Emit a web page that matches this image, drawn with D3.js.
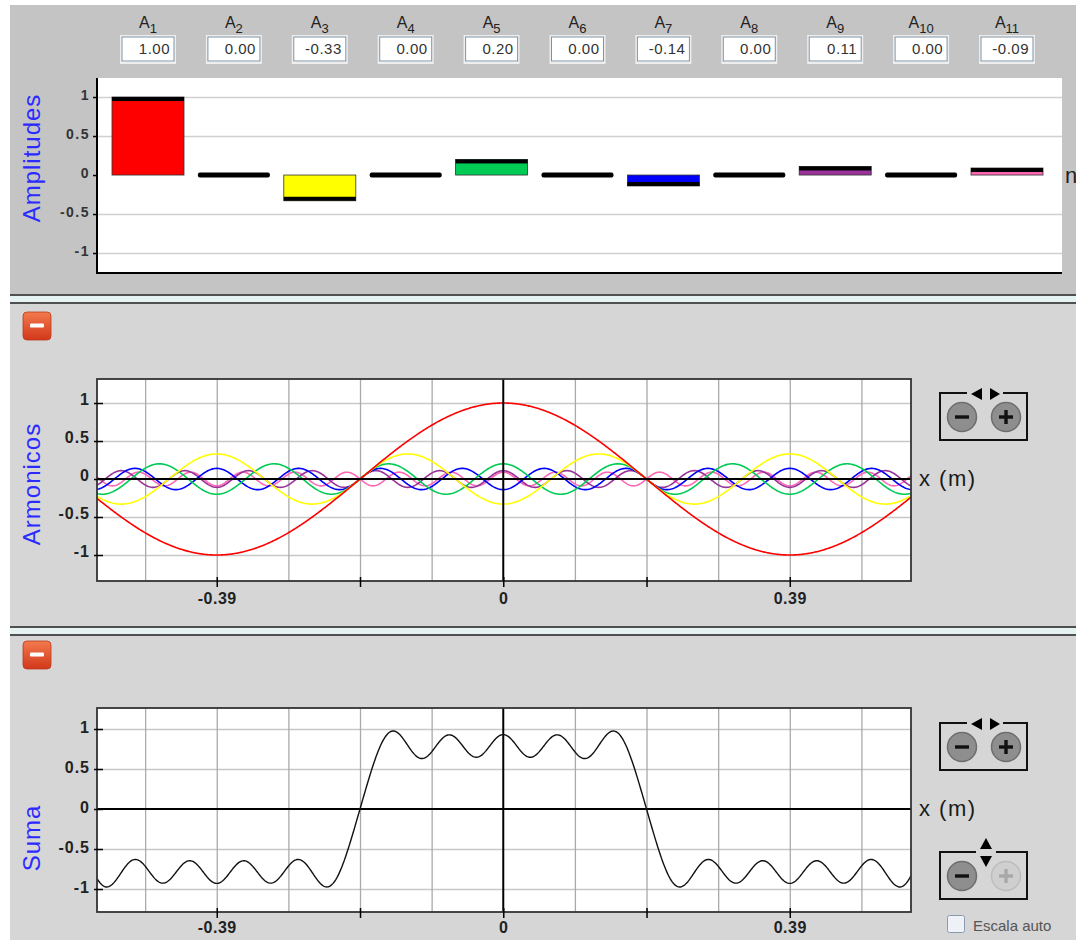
<!DOCTYPE html>
<html>
<head>
<meta charset="utf-8">
<script src="https://cdn.jsdelivr.net/npm/d3@7"></script>
<style>
body { margin: 0; background: #fff; }
svg { display: block; font-family: "Liberation Sans", Arial, sans-serif; }
</style>
</head>
<body>
<svg id="chart" width="1076" height="940"></svg>
<script>
// ---- data ----
var harmonics = [1, 2, 3, 4, 5, 6, 7, 8, 9, 10, 11];
// amplitudes as drawn by the bars and used by the curves (A11 bar sits above zero)
var amplitudes = [1.00, 0.00, -0.33, 0.00, 0.20, 0.00, -0.14, 0.00, 0.11, 0.00, 0.09];
// texts in the value boxes
var amplitudeLabels = ['1.00', '0.00', '-0.33', '0.00', '0.20', '0.00', '-0.14', '0.00', '0.11', '0.00', '-0.09'];
var harmonicColors = ['#ff0000', '#ff9900', '#ffff00', '#996633', '#00cc55', '#00cccc',
                      '#0000ff', '#666666', '#993399', '#339966', '#ff66b3'];
var ampTicks = [-1, -0.5, 0, 0.5, 1];
var xTickValues = [-0.39, -0.195, 0, 0.195, 0.39];
var xTickLabels = ['-0.39', '', '0', '', '0.39'];
var xGrid = [-0.4875, -0.39, -0.2925, -0.195, -0.0975, 0.0975, 0.195, 0.2925, 0.39, 0.4875];
var wavelength = 0.78;

var svg = d3.select('#chart');
var defs = svg.append('defs');
var plainFormat = d => String(d);

// ---- panel backgrounds ----
function separator(y) {
	svg.append('rect').attr('x', 10).attr('y', y).attr('width', 1066).attr('height', 2).attr('fill', '#505050');
	svg.append('rect').attr('x', 10).attr('y', y + 2).attr('width', 1066).attr('height', 6).attr('fill', '#e4f2f2');
	svg.append('rect').attr('x', 10).attr('y', y + 8).attr('width', 1066).attr('height', 2).attr('fill', '#505050');
}
svg.append('rect').attr('x', 10).attr('y', 5).attr('width', 1066).attr('height', 289).attr('fill', '#c4c4c4');
separator(294);
svg.append('rect').attr('x', 10).attr('y', 304).attr('width', 1066).attr('height', 322).attr('fill', '#d6d6d6');
separator(626);
svg.append('rect').attr('x', 10).attr('y', 636).attr('width', 1066).attr('height', 304).attr('fill', '#d6d6d6');

function yTitle(text, cy) {
	svg.append('text')
		.attr('transform', `translate(31, ${cy}) rotate(-90)`)
		.attr('text-anchor', 'middle')
		.attr('dominant-baseline', 'central')
		.attr('font-size', '24px')
		.attr('letter-spacing', '1px')
		.attr('fill', '#2b2bff')
		.text(text);
}

// ---- top panel: amplitudes ----
var ampBox = { left: 97, right: 1062, top: 78, bottom: 273 };
var xHarm = d3.scalePoint().domain(harmonics).range([148, 1007]);
var yAmp = d3.scaleLinear().domain([-1.256, 1.244]).range([ampBox.bottom, ampBox.top]);

var gTop = svg.append('g');
gTop.append('rect').attr('x', ampBox.left).attr('y', ampBox.top)
	.attr('width', ampBox.right - ampBox.left).attr('height', ampBox.bottom - ampBox.top).attr('fill', '#fff');

var topGrid = gTop.append('g').attr('transform', `translate(${ampBox.left},0)`)
	.call(d3.axisLeft(yAmp).tickValues([-1, -0.5, 0.5, 1]).tickSize(-(ampBox.right - ampBox.left)).tickFormat(''));
topGrid.select('.domain').remove();
topGrid.selectAll('line').attr('stroke', '#d0d0d0').attr('stroke-width', 1.5);

// harmonic labels and value boxes
var heads = gTop.selectAll('.head').data(harmonics).enter().append('g')
	.attr('transform', d => `translate(${xHarm(d)},0)`);
var lab = heads.append('text').attr('y', 28).attr('text-anchor', 'middle')
	.attr('font-size', '16px').attr('fill', '#222');
lab.append('tspan').text('A');
lab.append('tspan').attr('dy', 5).attr('font-size', '13px').text(d => d);
heads.append('rect').attr('x', -27).attr('y', 36).attr('width', 54).attr('height', 27)
	.attr('fill', '#fff').attr('stroke', '#eeeeee').attr('stroke-width', 2);
heads.append('rect').attr('x', -26).attr('y', 37).attr('width', 52).attr('height', 24)
	.attr('fill', '#fff').attr('stroke', '#7f93a6').attr('stroke-width', 1);
heads.append('text').attr('x', 22).attr('y', 54).attr('text-anchor', 'end')
	.attr('font-size', '15px').attr('letter-spacing', '0.5px').attr('fill', '#333')
	.text((d, i) => amplitudeLabels[i]);

// bars
var barW = 72, capH = 4;
var bars = gTop.selectAll('.bar').data(harmonics).enter().append('g').attr('class', 'bar');
bars.each(function(d, i) {
	var g = d3.select(this), v = amplitudes[i], x0 = xHarm(d) - barW / 2;
	if (v === 0) {
		g.append('rect').attr('x', x0).attr('y', yAmp(0) - 2.5).attr('width', barW).attr('height', 5)
			.attr('rx', 2).attr('fill', '#000');
		return;
	}
	var y1 = Math.min(yAmp(0), yAmp(v)), y2 = Math.max(yAmp(0), yAmp(v));
	g.append('rect').attr('x', x0).attr('y', y1).attr('width', barW).attr('height', y2 - y1)
		.attr('fill', harmonicColors[i]).attr('stroke', '#333').attr('stroke-width', 0.8);
	g.append('rect').attr('x', x0).attr('y', v > 0 ? y1 : y2 - capH).attr('width', barW).attr('height', capH)
		.attr('fill', '#000');
});

var topAxis = gTop.append('g').attr('transform', `translate(${ampBox.left},0)`)
	.call(d3.axisLeft(yAmp).tickValues(ampTicks).tickSize(4).tickPadding(3).tickFormat(plainFormat));
topAxis.select('.domain').remove();
topAxis.selectAll('line').attr('stroke', '#000').attr('stroke-width', 1.5);
topAxis.selectAll('text').attr('dy', 2).attr('font-size', '14px').attr('font-weight', 'bold')
	.attr('letter-spacing', '1.5px').attr('fill', '#333');
gTop.append('path').attr('d', `M${ampBox.left},${ampBox.top}V${ampBox.bottom}H${ampBox.right}`)
	.attr('fill', 'none').attr('stroke', '#000').attr('stroke-width', 2);
gTop.append('text').attr('x', 1065).attr('y', 183).attr('font-size', '22px').attr('fill', '#222').text('n');
yTitle('Amplitudes', 158);

// ---- shared drawing for the two x plots ----
var gr = defs.append('linearGradient').attr('id', 'redgrad').attr('x1', 0).attr('y1', 0).attr('x2', 0).attr('y2', 1);
gr.append('stop').attr('offset', 0).attr('stop-color', '#f37a4e');
gr.append('stop').attr('offset', 1).attr('stop-color', '#d2381a');

function minusButton(y) {
	svg.append('rect').attr('x', 23).attr('y', y).attr('width', 28).attr('height', 28).attr('rx', 4)
		.attr('fill', 'url(#redgrad)').attr('stroke', '#b83a1c').attr('stroke-width', 0.8);
	svg.append('rect').attr('x', 30).attr('y', y + 11.5).attr('width', 14).attr('height', 4).attr('rx', 1).attr('fill', '#fff');
}

function xPlot(p) {
	var x = d3.scaleLinear().domain([-0.553, 0.555]).range([p.left, p.right]);
	var y = d3.scaleLinear().domain(p.yDomain).range([p.bottom, p.top]);
	var g = svg.append('g');
	g.append('rect').attr('x', p.left).attr('y', p.top).attr('width', p.right - p.left)
		.attr('height', p.bottom - p.top).attr('fill', '#fff');

	var hg = g.append('g').attr('transform', `translate(${p.left},0)`)
		.call(d3.axisLeft(y).tickValues([-1, -0.5, 0.5, 1]).tickSize(-(p.right - p.left)).tickFormat(''));
	hg.select('.domain').remove();
	hg.selectAll('line').attr('stroke', '#c8c8c8').attr('stroke-width', 1.5);
	var vg = g.append('g').attr('transform', `translate(0,${p.bottom})`)
		.call(d3.axisBottom(x).tickValues(xGrid).tickSize(-(p.bottom - p.top)).tickFormat(''));
	vg.select('.domain').remove();
	vg.selectAll('line').attr('stroke', '#aaaaaa').attr('stroke-width', 1.3);

	var clip = 'clip' + p.top;
	defs.append('clipPath').attr('id', clip).append('rect')
		.attr('x', p.left).attr('y', p.top).attr('width', p.right - p.left).attr('height', p.bottom - p.top);
	var cg = g.append('g').attr('clip-path', `url(#${clip})`);
	p.drawUnder && p.drawUnder(cg, x, y);

	g.append('line').attr('x1', p.left).attr('x2', p.right).attr('y1', y(0)).attr('y2', y(0))
		.attr('stroke', '#000').attr('stroke-width', 2);
	g.append('line').attr('x1', x(0)).attr('x2', x(0)).attr('y1', p.top).attr('y2', p.bottom)
		.attr('stroke', '#000').attr('stroke-width', 2);
	p.drawOver && p.drawOver(g.append('g').attr('clip-path', `url(#${clip})`), x, y);

	g.append('rect').attr('x', p.left).attr('y', p.top).attr('width', p.right - p.left)
		.attr('height', p.bottom - p.top).attr('fill', 'none').attr('stroke', '#333').attr('stroke-width', 1.8);

	var ya = g.append('g').attr('transform', `translate(${p.left},0)`)
		.call(d3.axisLeft(y).tickValues(ampTicks).tickSize(3).tickPadding(4).tickFormat(plainFormat));
	ya.select('.domain').remove();
	ya.selectAll('line').attr('x2', -3).attr('x1', 6).attr('stroke', '#000').attr('stroke-width', 1.5);
	ya.selectAll('text').attr('dy', p.labelDy).attr('font-size', '16px').attr('font-weight', 'bold')
		.attr('letter-spacing', '1px').attr('fill', '#222');

	var xa = g.append('g').attr('transform', `translate(0,${p.bottom})`)
		.call(d3.axisBottom(x).tickValues(xTickValues).tickSize(6).tickFormat((d, i) => xTickLabels[i]));
	xa.select('.domain').remove();
	xa.selectAll('line').attr('y1', -4).attr('y2', 6).attr('stroke', '#000').attr('stroke-width', 1.5);
	xa.selectAll('text').attr('y', p.xLabelY).attr('dy', 0).attr('font-size', '16px').attr('font-weight', 'bold')
		.attr('letter-spacing', '0.5px').attr('fill', '#222');

	svg.append('text').attr('x', 919).attr('y', y(0) + 7).attr('font-size', '22px')
		.attr('letter-spacing', '1.5px').attr('fill', '#1a1a1a').text('x (m)');
}

function zoomControl(ty, vertical, plusEnabled) {
	var g = svg.append('g');
	var gapL = vertical ? 976 : 967, gapR = vertical ? 996 : 1003;
	g.append('path').attr('d', `M${gapL},${ty}H940V${ty + 47}H1027V${ty}H${gapR}`)
		.attr('fill', 'none').attr('stroke', '#111').attr('stroke-width', 2);
	if (vertical) {
		g.append('path').attr('d', `M986,${ty - 14}L980,${ty - 3}H992Z`).attr('fill', '#000');
		g.append('path').attr('d', `M980,${ty + 4}H992L986,${ty + 15}Z`).attr('fill', '#000');
	} else {
		g.append('path').attr('d', `M971,${ty + 1}L982,${ty - 5}V${ty + 7}Z`).attr('fill', '#000');
		g.append('path').attr('d', `M990,${ty - 5}L1000,${ty + 1}L990,${ty + 7}Z`).attr('fill', '#000');
	}
	var cy = ty + 24;
	[[962, true], [1006, plusEnabled]].forEach(function(c, k) {
		var on = c[1];
		g.append('circle').attr('cx', c[0]).attr('cy', cy).attr('r', 14.5)
			.attr('fill', on ? '#8e8e8e' : '#cfcfcf').attr('stroke', on ? '#6e6e6e' : '#bdbdbd').attr('stroke-width', 1.5);
		var col = on ? '#111' : '#a8a8a8';
		g.append('rect').attr('x', c[0] - 7).attr('y', cy - 1.7).attr('width', 14).attr('height', 3.4).attr('fill', col);
		if (k === 1) g.append('rect').attr('x', c[0] - 1.7).attr('y', cy - 7).attr('width', 3.4).attr('height', 14).attr('fill', col);
	});
}

function curvePoints(x) {
	var r = x.range();
	return d3.range(0, 901).map(i => x.invert(r[0] + i * (r[1] - r[0]) / 900));
}

// ---- middle panel: harmonics ----
minusButton(312);
xPlot({
	left: 97, right: 911, top: 379, bottom: 581, yDomain: [-1.342, 1.316], labelDy: 1, xLabelY: 23,
	drawUnder: function(g, x, y) {
		var xs = curvePoints(x);
		harmonics.slice().reverse().forEach(function(n) {
			var a = amplitudes[n - 1];
			if (a === 0) return;
			var line = d3.line().x(d => x(d)).y(d => y(a * Math.cos(2 * Math.PI * n * d / wavelength)));
			g.append('path').datum(xs).attr('d', line).attr('fill', 'none')
				.attr('stroke', harmonicColors[n - 1]).attr('stroke-width', 1.6);
		});
	}
});
yTitle('Armonicos', 484);
zoomControl(393, false, true);

// ---- bottom panel: sum ----
minusButton(641);
xPlot({
	left: 97, right: 911, top: 708, bottom: 912, yDomain: [-1.2875, 1.2625], labelDy: 3, xLabelY: 21,
	drawOver: function(g, x, y) {
		var xs = curvePoints(x);
		var line = d3.line().x(d => x(d)).y(d => y(d3.sum(harmonics,
			n => amplitudes[n - 1] * Math.cos(2 * Math.PI * n * d / wavelength))));
		g.append('path').datum(xs).attr('d', line).attr('fill', 'none').attr('stroke', '#111').attr('stroke-width', 1.4);
	}
});
yTitle('Suma', 838);
zoomControl(723, false, true);
zoomControl(852, true, false);

// checkbox
svg.append('rect').attr('x', 947.5).attr('y', 915.5).attr('width', 17).attr('height', 17).attr('rx', 2)
	.attr('fill', '#eef2f8').attr('stroke', '#8a9bb0');
svg.append('text').attr('x', 973).attr('y', 931).attr('font-size', '15px').attr('fill', '#555').text('Escala auto');
</script>
</body>
</html>
